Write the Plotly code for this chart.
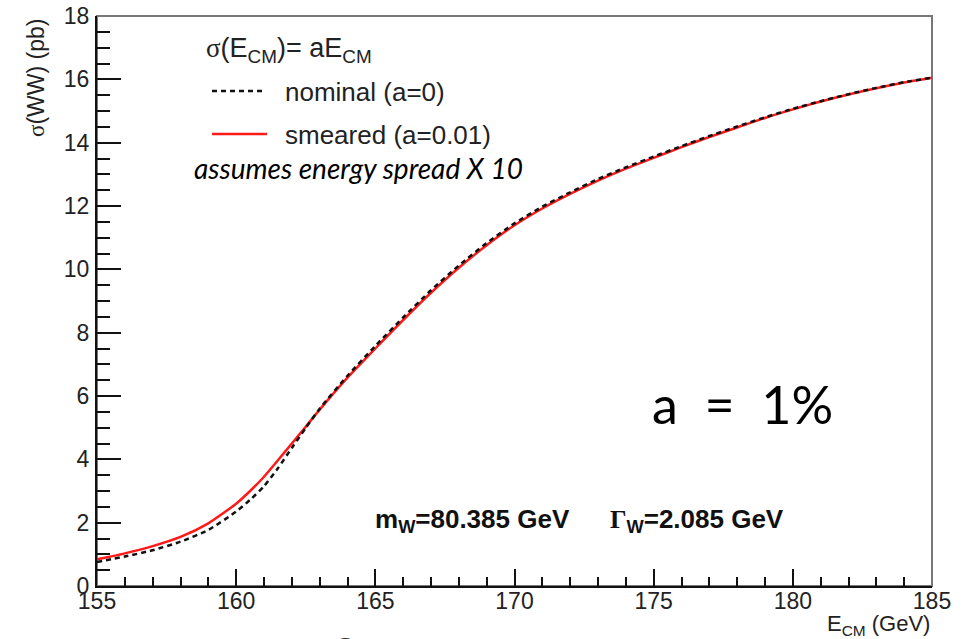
import plotly.graph_objects as go

# ---- data ----
e_cm = [155, 156, 157, 158, 159, 160, 160.5, 161, 161.5, 162, 162.5, 163, 164, 165,
        166, 167, 168, 169, 170, 171, 172, 173, 174, 175, 176, 177, 178, 179, 180,
        181, 182, 183, 184, 185]
sigma_nominal = [0.76, 0.93, 1.13, 1.40, 1.77, 2.35, 2.72, 3.15, 3.72, 4.36, 4.99, 5.60,
                 6.64, 7.58, 8.48, 9.34, 10.12, 10.83, 11.45, 11.98, 12.43, 12.85, 13.22,
                 13.56, 13.89, 14.21, 14.51, 14.80, 15.07, 15.31, 15.53, 15.73, 15.91, 16.05]
sigma_smeared = [0.84, 1.03, 1.26, 1.55, 1.98, 2.60, 3.00, 3.45, 3.97, 4.50, 5.03, 5.57,
                 6.58, 7.50, 8.40, 9.26, 10.05, 10.76, 11.39, 11.92, 12.38, 12.80, 13.18,
                 13.52, 13.86, 14.18, 14.48, 14.78, 15.05, 15.30, 15.52, 15.72, 15.90, 16.05]
x_ticks = [155, 160, 165, 170, 175, 180, 185]
y_ticks = [0, 2, 4, 6, 8, 10, 12, 14, 16, 18]

W, H = 964, 639
L, R, T, B = 97, 32, 16, 53
PW, PH = W - L - R, H - T - B


def px(x):
    return (x - L) / PW


def py(y):
    return (H - B - y) / PH


SANS = "Liberation Sans, Arial, sans-serif"
CAL = "Lato, Open Sans, sans-serif"

fig = go.Figure()
fig.add_trace(go.Scatter(x=e_cm, y=sigma_smeared, mode="lines", name="smeared (a=0.01)",
                         line=dict(color="#ff1a1a", width=2.5, shape="spline", smoothing=0.6)))
fig.add_trace(go.Scatter(x=e_cm, y=sigma_nominal, mode="lines", name="nominal (a=0)",
                         line=dict(color="#111111", width=2.5, dash="5px,4px",
                                   shape="spline", smoothing=0.6)))

axis_common = dict(showgrid=False, zeroline=False, showline=True, linecolor="#111",
                   linewidth=2, ticks="inside", tickcolor="#111", tickwidth=1.5,
                   automargin=False,
                   tickfont=dict(family=SANS, size=23, color="#222"))
fig.update_xaxes(range=[155, 185], tickvals=x_ticks, ticklen=17,
                 minor=dict(dtick=1, ticks="inside", ticklen=9, tickcolor="#111", tickwidth=1.5),
                 ticklabelstandoff=-7, **axis_common)
fig.update_yaxes(range=[0, 18], tickvals=y_ticks, ticklen=24,
                 minor=dict(dtick=0.5, ticks="inside", ticklen=13, tickcolor="#111", tickwidth=1.5),
                 ticklabelstandoff=1, **axis_common)

shapes = [
    dict(type="rect", xref="paper", yref="paper", x0=0, x1=1, y0=0, y1=1,
         line=dict(color="#777", width=2), layer="below"),
    # legend samples
    dict(type="line", xref="paper", yref="paper", x0=px(212), x1=px(262), y0=py(91), y1=py(91),
         line=dict(color="#111", width=2.5, dash="5px,4px")),
    dict(type="line", xref="paper", yref="paper", x0=px(212), x1=px(267), y0=py(134), y1=py(134),
         line=dict(color="#ff1a1a", width=2.5)),
]

ann = []


def add(text, x, y, size, family=SANS, xanchor="left", yanchor="middle", color="#222", angle=0):
    ann.append(dict(text=text, x=px(x), y=py(y), xref="paper", yref="paper", showarrow=False,
                    xanchor=xanchor, yanchor=yanchor, textangle=angle,
                    font=dict(family=family, size=size, color=color)))


sig = "<span style='font-family:Liberation Serif'>σ</span>"
add(sig + "(E<sub>CM</sub>)= aE<sub>CM</sub>", 204, 50, 27)
add("nominal (a=0)", 283, 92, 26)
add("smeared (a=0.01)", 283, 135, 26)
add("<i>assumes energy spread X 10</i>", 192, 168, 28, family=CAL, color="#000")
add("a  =  1%", 650, 404, 52, family=CAL, color="#000")
add("<b>m<sub>W</sub>=80.385 GeV</b>", 373, 520, 26, color="#111")
add("<b><span style='font-family:Liberation Serif'>Γ</span><sub>W</sub>=2.085 GeV</b>", 608, 520, 26, color="#111")
add("E<sub>CM</sub> (GeV)", 932, 625, 22, xanchor="right")
add(sig + "(WW) (pb)", 36, 78, 23, xanchor="center", angle=-90)
add("2", 345, 652, 40, xanchor="center", color="#222")

fig.update_layout(width=W, height=H, margin=dict(l=L, r=R, t=T, b=B, autoexpand=False),
                  paper_bgcolor="white", plot_bgcolor="white", showlegend=False,
                  shapes=shapes, annotations=ann)
fig.write_html("out.html")
